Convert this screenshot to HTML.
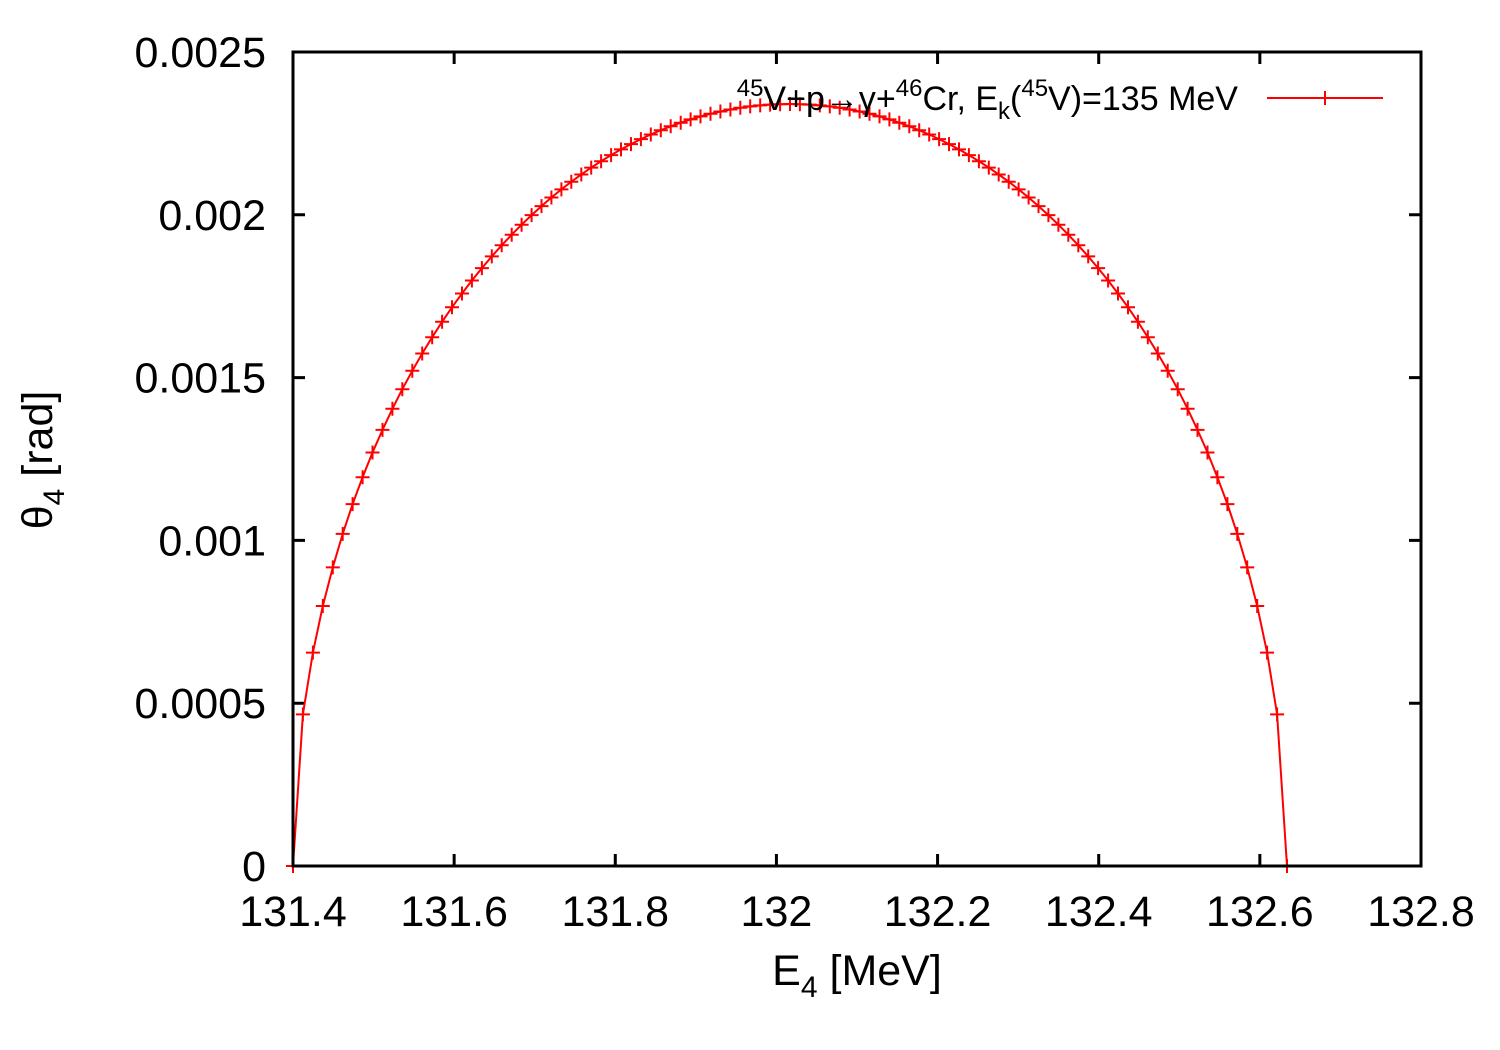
<!DOCTYPE html>
<html><head><meta charset="utf-8"><style>
html,body{margin:0;padding:0;background:#fff}
svg{display:block}
text{font-family:"Liberation Sans",sans-serif;fill:#000}
</style></head><body>
<svg id="s" width="1500" height="1050" viewBox="0 0 1500 1050" xmlns="http://www.w3.org/2000/svg">
<rect width="1500" height="1050" fill="#fff"/>
<g id="ticks" stroke="#000" stroke-width="3"></g>
<g font-size="43" text-anchor="end" id="yl"></g>
<g font-size="43" text-anchor="middle" id="xl"></g>
<text x="857" y="985" font-size="43" text-anchor="middle">E<tspan font-size="30" dy="12">4</tspan><tspan dy="-12"> [MeV]</tspan></text>
<text transform="translate(52,460) rotate(-90)" font-size="43" text-anchor="middle">θ<tspan font-size="30" dy="12">4</tspan><tspan dy="-12"> [rad]</tspan></text>
<path id="curve" fill="none" stroke="#ff0000" stroke-width="2"/>
<path id="marks" fill="none" stroke="#ff0000" stroke-width="2"/>
<text x="1238" y="110" font-size="34" text-anchor="end"><tspan font-size="24" dy="-14">45</tspan><tspan dy="14">V+p→γ+</tspan><tspan font-size="24" dy="-14">46</tspan><tspan dy="14">Cr, E</tspan><tspan font-size="24" dy="9">k</tspan><tspan dy="-9">(</tspan><tspan font-size="24" dy="-14">45</tspan><tspan dy="14">V)=135 MeV</tspan></text>
<line x1="1267" y1="98" x2="1383" y2="98" stroke="#ff0000" stroke-width="2"/>
<path d="M1318 98H1332M1325 91V105" stroke="#ff0000" stroke-width="2"/>
<rect x="293" y="52" width="1128" height="814" fill="none" stroke="#000" stroke-width="3"/>
</svg>
<script>
var ns="http://www.w3.org/2000/svg";
function Y(v){return 866-v/0.0025*814}
var t="",yl=document.getElementById("yl"),xl=document.getElementById("xl");
var ylab=["0","0.0005","0.001","0.0015","0.002","0.0025"];
for(var i=0;i<=5;i++){var y=Y(i*0.0005);
 if(i>0&&i<5)t+="M293 "+y+"h12M1421 "+y+"h-12";
 var tx=document.createElementNS(ns,"text");tx.setAttribute("x",266);tx.setAttribute("y",y+15);tx.textContent=ylab[i];yl.appendChild(tx);}
var xlab=["131.4","131.6","131.8","132","132.2","132.4","132.6","132.8"];
for(var i=0;i<8;i++){var x=293+i*1128/7;
 if(i>0&&i<7)t+="M"+x+" 866v-12M"+x+" 52v12";
 var tx=document.createElementNS(ns,"text");tx.setAttribute("x",x);tx.setAttribute("y",926);tx.textContent=xlab[i];xl.appendChild(tx);}
var tk=document.createElementNS(ns,"path");tk.setAttribute("d",t);document.getElementById("ticks").appendChild(tk);
var xc=790,R=497,h=762,c="",m="";
for(var i=0;i<=100;i++){var x=293+i*994/100;var u=(x-xc)/R;var v=1-u*u;if(v<0)v=0;var y=866-h*Math.sqrt(v);
 c+=(i?"L":"M")+x.toFixed(1)+" "+y.toFixed(1);
 m+="M"+(x-7).toFixed(1)+" "+y.toFixed(1)+"h14M"+x.toFixed(1)+" "+(y-7).toFixed(1)+"v14";}
document.getElementById("curve").setAttribute("d",c);
document.getElementById("marks").setAttribute("d",m);
</script>
</body></html>
